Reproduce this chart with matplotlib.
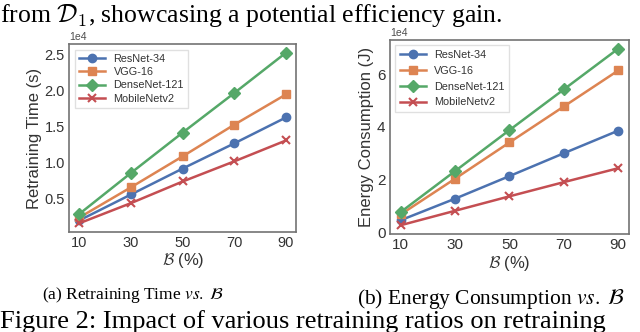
import matplotlib
matplotlib.use("Agg")
import matplotlib.pyplot as plt

ratios = [10, 30, 50, 70, 90]
models = ["ResNet-34", "VGG-16", "DenseNet-121", "MobileNetv2"]

# retraining time, units of 1e4 s
time_resnet = [0.19, 0.55, 0.91, 1.26, 1.62]
time_vgg = [0.23, 0.65, 1.08, 1.52, 1.94]
time_dense = [0.28, 0.85, 1.41, 1.96, 2.52]
time_mobile = [0.15, 0.43, 0.73, 1.01, 1.30]

# energy, units of 1e4 J
energy_resnet = [0.45, 1.27, 2.13, 3.00, 3.86]
energy_vgg = [0.67, 2.03, 3.41, 4.78, 6.15]
energy_dense = [0.76, 2.32, 3.88, 5.43, 6.98]
energy_mobile = [0.26, 0.81, 1.36, 1.90, 2.43]

colors = ["#4C72B0", "#DD8452", "#55A868", "#C44E52"]
markers = ["o", "s", "D", "x"]

plt.rcParams["font.family"] = ["Liberation Sans", "DejaVu Sans"]

fig = plt.figure(figsize=(6.4, 3.32), dpi=100)
ax1 = fig.add_axes([0.108, 0.302, 0.355, 0.565])
ax2 = fig.add_axes([0.609, 0.295, 0.374, 0.585])


def draw(ax, series, ylabel, tick_fs, leg_spacing):
    for vals, name, c, m in zip(series, models, colors, markers):
        ms = 6 if m != "D" else 6.5
        ax.plot(ratios, [v * 1e4 for v in vals], color=c, marker=m, ms=ms,
                lw=1.8, mew=1.5 if m == "x" else 1, label=name)
    ax.set_xticks(ratios)
    ax.ticklabel_format(axis="y", style="sci", scilimits=(0, 0))
    ax.tick_params(labelsize=tick_fs, length=0, pad=3)
    ax.yaxis.get_offset_text().set_fontsize(7.5)
    ax.yaxis.get_offset_text().set_color("0.3")
    ax.set_ylabel(ylabel, fontsize=12, color="0.2", labelpad=2)
    ax.set_xlabel(r"$\mathcal{B}$ (%)", fontsize=12, color="0.2", labelpad=1,
                  math_fontfamily="cm")
    for s in ax.spines.values():
        s.set_color("0.45")
        s.set_linewidth(1.2)
    for lab in ax.get_xticklabels() + ax.get_yticklabels():
        lab.set_color("0.2")
    leg = ax.legend(loc="upper left", fontsize=7.8, frameon=True,
                    fancybox=False, handlelength=2.4, borderpad=0.4,
                    labelspacing=leg_spacing)
    leg.get_frame().set_edgecolor("0.85")
    for t in leg.get_texts():
        t.set_color("0.2")


draw(ax1, [time_resnet, time_vgg, time_dense, time_mobile],
     "Retraining Time (s)", 10.5, 0.3)
draw(ax2, [energy_resnet, energy_vgg, energy_dense, energy_mobile],
     "Energy Consumption (J)", 11, 0.55)
ax1.set_yticks([0.5e4, 1e4, 1.5e4, 2e4, 2.5e4])
ax2.set_yticks([0, 2e4, 4e4, 6e4])

serif = "Liberation Serif"
fig.text(0.0, 0.935, r"from $\mathcal{D}_1$, showcasing a potential efficiency gain.",
         fontsize=18.5, family=serif, math_fontfamily="cm", va="baseline")
fig.text(0.208, 0.1, r"(a) Retraining Time $\mathit{vs.}$ $\mathcal{B}$",
         fontsize=12.5, family=serif, math_fontfamily="stix", ha="center",
         va="baseline")
fig.text(0.767, 0.085, r"(b) Energy Consumption $\mathit{vs.}$ $\mathcal{B}$",
         fontsize=15.5, family=serif, math_fontfamily="stix", ha="center",
         va="baseline")
fig.text(0.0, 0.012, "Figure 2: Impact of various retraining ratios on retraining",
         fontsize=19, family=serif, va="baseline")

fig.savefig("out.png", dpi=100)
